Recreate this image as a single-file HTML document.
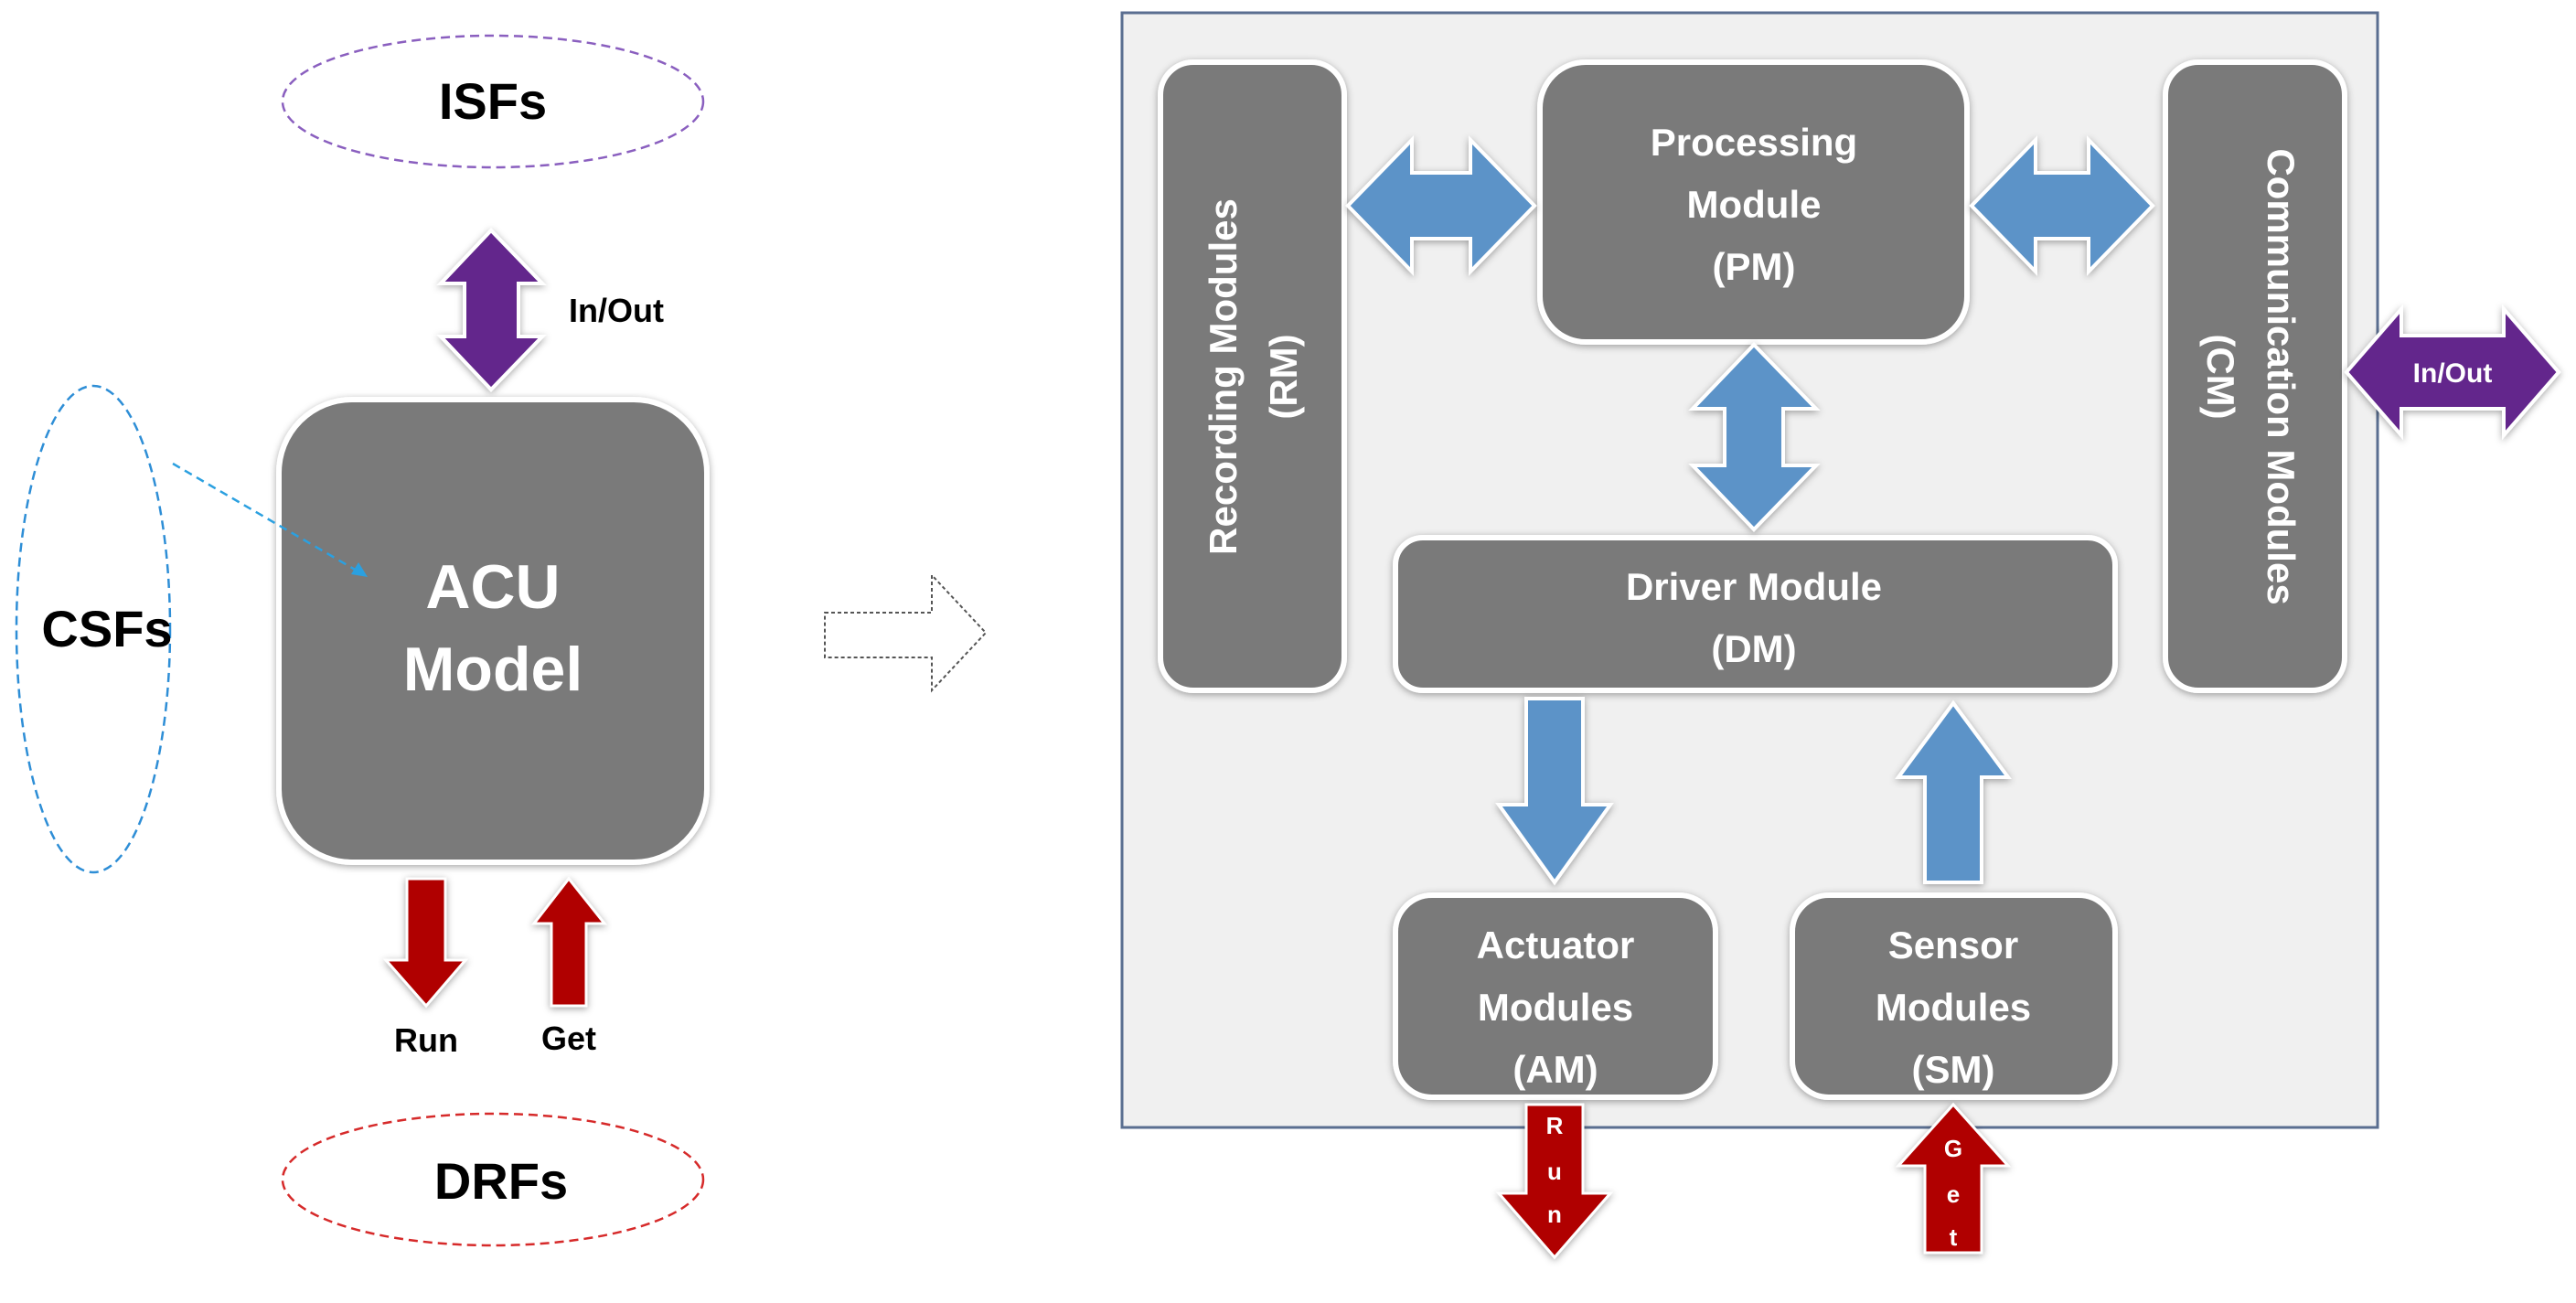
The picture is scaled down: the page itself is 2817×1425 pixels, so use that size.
<!DOCTYPE html>
<html><head><meta charset="utf-8"><style>
html,body{margin:0;padding:0;background:#fff;}
svg{display:block;}
text{font-family:"Liberation Sans",sans-serif;font-weight:bold;}
</style></head><body>
<svg width="2817" height="1425" viewBox="0 0 2817 1425" xmlns="http://www.w3.org/2000/svg">
<defs>
<filter id="sh" x="-10%" y="-10%" width="120%" height="120%"><feDropShadow dx="0" dy="2" stdDeviation="4" flood-color="#000" flood-opacity="0.35"/></filter>
</defs>
<!-- Left part -->
<ellipse cx="539" cy="111" rx="230" ry="72" fill="none" stroke="#8a5fbf" stroke-width="2.5" stroke-dasharray="10,6"/>
<text x="539" y="130" font-size="56" text-anchor="middle" fill="#000">ISFs</text>
<polygon points="537,252 593,310 567,310 567,368 593,368 537,426 482,368 508,368 508,310 482,310" fill="#64288c" stroke="#fff" stroke-width="4" filter="url(#sh)"/>
<text x="674" y="352" font-size="36" text-anchor="middle" fill="#000">In/Out</text>
<rect x="305" y="437" width="468" height="506" rx="80" fill="#7a7a7a" stroke="#fff" stroke-width="6" filter="url(#sh)"/>
<text x="539" y="665" font-size="68" text-anchor="middle" fill="#fff">ACU</text>
<text x="539" y="755" font-size="68" text-anchor="middle" fill="#fff">Model</text>
<ellipse cx="102" cy="688" rx="84" ry="266" fill="none" stroke="#2e8ed6" stroke-width="2.5" stroke-dasharray="10,6"/>
<text x="117" y="707" font-size="56" text-anchor="middle" fill="#000">CSFs</text>
<line x1="189" y1="507" x2="390" y2="624" stroke="#2ba0e0" stroke-width="2.5" stroke-dasharray="9,6"/>
<polygon points="402,631 384,628 392,615" fill="#2ba0e0"/>
<polygon points="445,961 487,961 487,1050 509,1050 466,1100 422,1050 445,1050" fill="#b00000" stroke="#fff" stroke-width="3" filter="url(#sh)"/>
<polygon points="622,961 661,1010 641,1010 641,1100 603,1100 603,1010 584,1010" fill="#b00000" stroke="#fff" stroke-width="3" filter="url(#sh)"/>
<text x="466" y="1150" font-size="36" text-anchor="middle" fill="#000">Run</text>
<text x="622" y="1148" font-size="36" text-anchor="middle" fill="#000">Get</text>
<ellipse cx="539" cy="1290" rx="230" ry="72" fill="none" stroke="#d62a2a" stroke-width="2.5" stroke-dasharray="10,6"/>
<text x="548" y="1311" font-size="56" text-anchor="middle" fill="#000">DRFs</text>
<polygon points="902,670 1019,670 1019,629 1078,692 1019,755 1019,719 902,719" fill="#fff" stroke="#555" stroke-width="2" stroke-dasharray="4,3"/>
<!-- Right panel -->
<rect x="1227" y="14" width="1373" height="1219" fill="#f0f0f0" stroke="#5a6e90" stroke-width="3"/>
<g filter="url(#sh)" stroke="#fff" stroke-width="6" fill="#7a7a7a">
<rect x="1269" y="68" width="201" height="687" rx="36"/>
<rect x="1684" y="68" width="467" height="306" rx="50"/>
<rect x="2368" y="68" width="196" height="687" rx="36"/>
<rect x="1526" y="588" width="787" height="167" rx="30"/>
<rect x="1526" y="979" width="350" height="221" rx="40"/>
<rect x="1960" y="979" width="353" height="221" rx="40"/>
</g>
<g fill="#5b93c8" stroke="#fff" stroke-width="4" filter="url(#sh)">
<polygon points="1474,225 1544,153 1544,189 1608,189 1608,153 1678,225 1608,297 1608,261 1544,261 1544,297"/>
<polygon points="2156,225 2226,153 2226,189 2284,189 2284,153 2354,225 2284,297 2284,261 2226,261 2226,297"/>
<polygon points="1918,377 1986,447 1950,447 1950,509 1986,509 1918,579 1851,509 1886,509 1886,447 1851,447"/>
<polygon points="1669,764 1731,764 1731,880 1761,880 1700,965 1639,880 1669,880"/>
<polygon points="2136,769 2196,850 2167,850 2167,965 2105,965 2105,850 2076,850"/>
</g>
<g fill="#b00000" stroke="#fff" stroke-width="3" filter="url(#sh)">
<polygon points="1669,1208 1731,1208 1731,1305 1761,1305 1700,1375 1639,1305 1669,1305"/>
<polygon points="2136,1208 2196,1275 2167,1275 2167,1370 2105,1370 2105,1275 2076,1275"/>
</g>
<polygon points="2566,407 2626,338 2626,367 2738,367 2738,338 2798,407 2738,476 2738,447 2626,447 2626,476" fill="#64288c" stroke="#fff" stroke-width="4" filter="url(#sh)"/>
<text x="2682" y="418" font-size="30" text-anchor="middle" fill="#fff" font-weight="normal">In/Out</text>
<g fill="#fff" text-anchor="middle" font-size="42">
<text x="1918" y="170">Processing</text>
<text x="1918" y="238">Module</text>
<text x="1918" y="306">(PM)</text>
<text x="1918" y="656">Driver Module</text>
<text x="1918" y="724">(DM)</text>
<text x="1701" y="1048">Actuator</text>
<text x="1701" y="1116">Modules</text>
<text x="1701" y="1184">(AM)</text>
<text x="2136" y="1048">Sensor</text>
<text x="2136" y="1116">Modules</text>
<text x="2136" y="1184">(SM)</text>
<text transform="translate(1352,412) rotate(-90)">Recording Modules</text>
<text transform="translate(1418,412) rotate(-90)">(RM)</text>
<text transform="translate(2480,412) rotate(90)">Communication Modules</text>
<text transform="translate(2414,412) rotate(90)">(CM)</text>
</g>
<g fill="#fff" text-anchor="middle" font-size="26">
<text x="1700" y="1240">R</text><text x="1700" y="1290">u</text><text x="1700" y="1337">n</text>
<text x="2136" y="1265">G</text><text x="2136" y="1315">e</text><text x="2136" y="1362">t</text>
</g>
</svg>
</body></html>
